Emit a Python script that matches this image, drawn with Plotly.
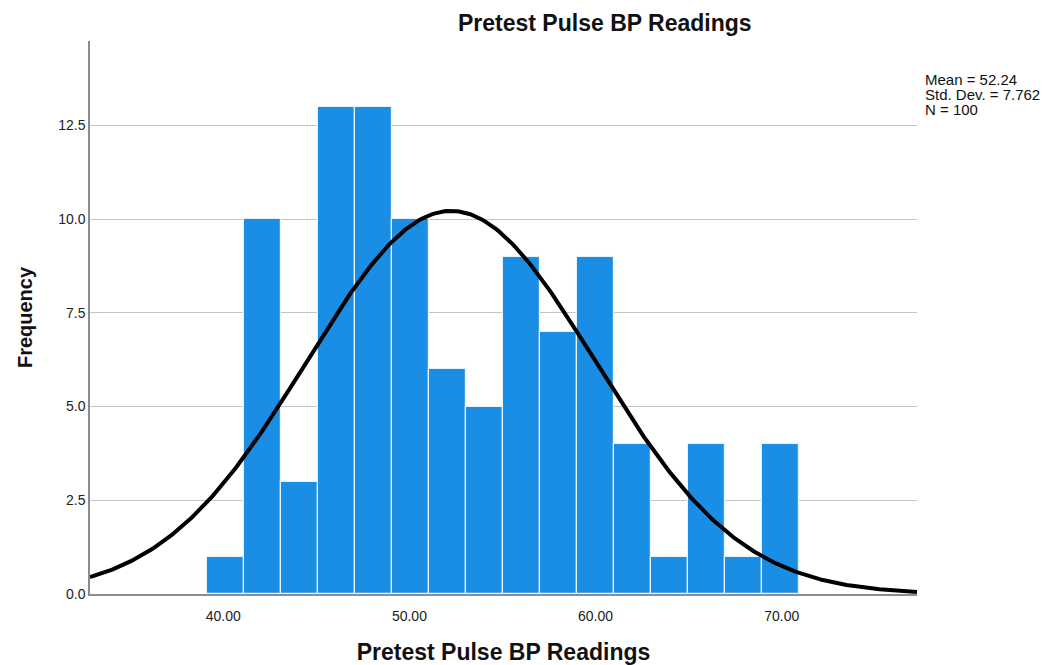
import numpy as np
import plotly.graph_objects as go

# Data
bin_start = 39.12
bin_width = 1.988
counts = [1, 10, 3, 13, 13, 10, 6, 5, 9, 7, 9, 4, 1, 4, 1, 4]
mean_val = 52.24
std_val = 7.762
n_val = 100
x_tickvals = [40, 50, 60, 70]
x_ticktext = ["40.00", "50.00", "60.00", "70.00"]
y_tickvals = [0, 2.5, 5, 7.5, 10, 12.5]
y_ticktext = ["0.0", "2.5", "5.0", "7.5", "10.0", "12.5"]
stats_lines = ["Mean = 52.24", "Std. Dev. = 7.762", "N = 100"]

x_min, x_max = 32.84, 77.27
y_max = 14.75

centers = [bin_start + bin_width * (i + 0.5) for i in range(len(counts))]

xs = np.linspace(x_min, x_max, 400)
ys = n_val * bin_width / (std_val * np.sqrt(2 * np.pi)) * np.exp(-0.5 * ((xs - mean_val) / std_val) ** 2)

fig = go.Figure()
fig.add_trace(go.Bar(
    x=centers, y=counts, width=bin_width,
    marker=dict(color="#1a8de4", line=dict(color="#e8f4fc", width=1.2)),
    hoverinfo="x+y",
))
fig.add_trace(go.Scatter(
    x=xs, y=ys, mode="lines",
    line=dict(color="black", width=4),
    hoverinfo="skip",
))

fig.update_layout(
    width=1050, height=665,
    margin=dict(l=90, r=133, t=41, b=71),
    paper_bgcolor="white", plot_bgcolor="white",
    showlegend=False,
    font=dict(family="Arial, Liberation Sans, sans-serif", color="#222222"),
    bargap=0,
)
fig.update_xaxes(
    range=[x_min, x_max], tickvals=x_tickvals, ticktext=x_ticktext, automargin=False,
    showgrid=False, zeroline=False, showline=True, linecolor="#8c8c8c", linewidth=1.5,
    ticks="", tickfont=dict(size=14, color="#222222"), ticklabelstandoff=8,
    title=dict(text="<b>Pretest Pulse BP Readings</b>", font=dict(size=23, color="#111111"), standoff=22),
)
fig.update_yaxes(
    range=[0, y_max], tickvals=y_tickvals, ticktext=y_ticktext, automargin=False,
    showgrid=True, gridcolor="#c4c4c4", gridwidth=1.2, zeroline=False,
    showline=True, linecolor="#8c8c8c", linewidth=1.5,
    ticks="", tickfont=dict(size=14, color="#222222"),
    title=dict(text="<b>Frequency</b>", font=dict(size=20, color="#111111"), standoff=20),
)

fig.add_annotation(
    text="<b>Pretest Pulse BP Readings</b>", xref="paper", yref="paper",
    x=(605 - 90) / (917 - 90), y=1, yshift=18, yanchor="middle", xanchor="center",
    showarrow=False, font=dict(size=23, color="#111111"),
)
for i, line in enumerate(stats_lines):
    fig.add_annotation(
        text=line, xref="paper", yref="paper",
        x=1, xshift=6, y=1, yshift=-(38 + 15 * i), xanchor="left", yanchor="middle", align="left",
        showarrow=False, font=dict(size=15, color="#111111"),
    )

fig.write_html("out.html")
